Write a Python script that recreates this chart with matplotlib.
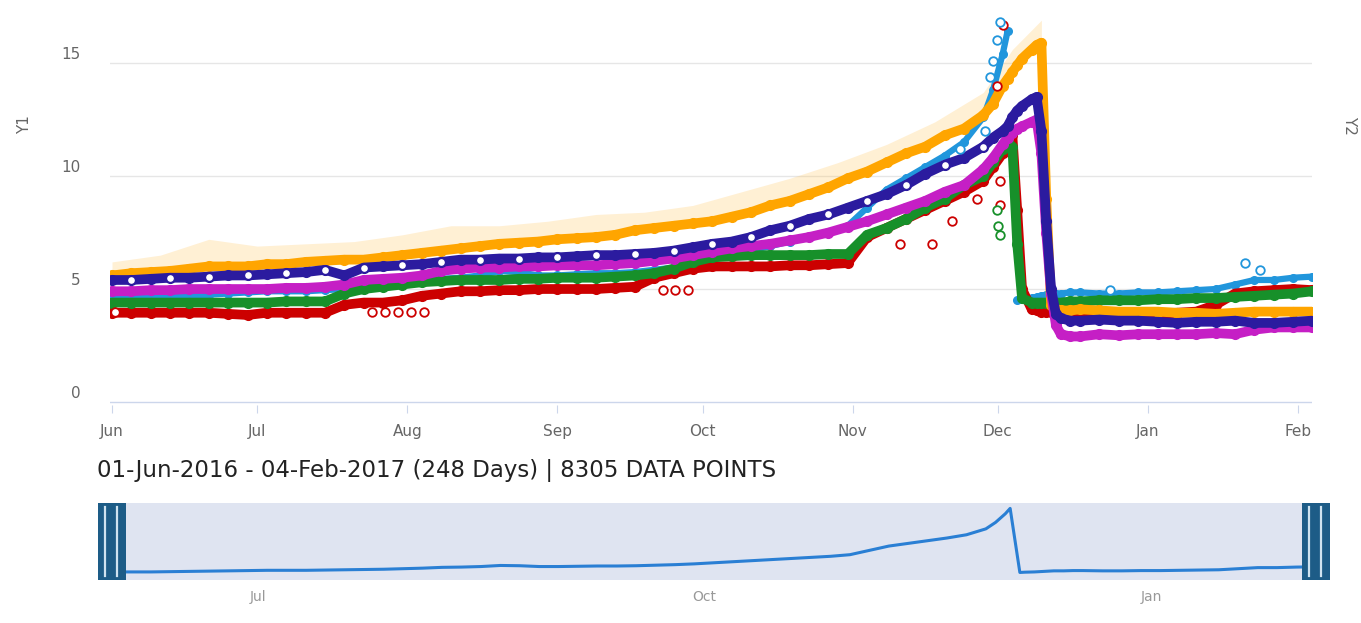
import matplotlib
matplotlib.use("Agg")
import matplotlib.pyplot as plt
import matplotlib.transforms as mtransforms
from matplotlib.patches import Rectangle
from matplotlib.lines import Line2D

W, H = 1361, 623

# ---- data (day 0 = 01-Jun-2016) ----
days = [0, 4, 8, 12, 16, 20, 24, 28, 32, 36, 40, 44, 48, 52, 56, 60, 64, 68, 72, 76,
        80, 84, 88, 92, 96, 100, 104, 108, 112, 116, 120, 124, 128, 132, 136, 140, 144,
        148, 152, 156, 160, 164, 168, 172, 176, 180,
        182, 184, 185, 186, 187, 188, 190, 191, 192, 193, 194, 195, 196, 198, 200,
        204, 208, 212, 216, 220, 224, 228, 232, 236, 240, 244, 248]

orange = [5.6, 5.7, 5.75, 5.8, 5.9, 6.0, 6.0, 6.0, 6.1, 6.1, 6.2, 6.25, 6.3, 6.3, 6.4, 6.5,
          6.6, 6.7, 6.8, 6.9, 7.0, 7.05, 7.1, 7.2, 7.25, 7.3, 7.4, 7.6, 7.7, 7.8, 7.9, 8.0,
          8.2, 8.4, 8.7, 8.9, 9.2, 9.5, 9.9, 10.2, 10.6, 11.0, 11.3, 11.8, 12.1, 12.7,
          13.2, 14.0, 14.3, 14.6, 14.9, 15.2, 15.6, 15.8, 15.9, 9.0, 4.3, 4.1, 4.05, 4.05, 4.1,
          4.05, 4.0, 4.0, 4.0, 3.95, 3.95, 3.9, 3.95, 4.0, 4.0, 4.0, 4.0]

navy = [5.4, 5.4, 5.45, 5.5, 5.5, 5.55, 5.6, 5.6, 5.65, 5.7, 5.75, 5.85, 5.6, 5.95, 6.0, 6.05,
        6.1, 6.2, 6.3, 6.3, 6.35, 6.35, 6.4, 6.4, 6.45, 6.5, 6.5, 6.55, 6.6, 6.7, 6.85, 7.0,
        7.1, 7.3, 7.6, 7.8, 8.1, 8.3, 8.6, 8.9, 9.2, 9.6, 10.1, 10.5, 10.8, 11.3,
        11.7, 12.0, 12.2, 12.6, 12.9, 13.1, 13.4, 13.5, 12.0, 8.0, 5.0, 3.9, 3.7, 3.6, 3.6,
        3.65, 3.6, 3.6, 3.55, 3.5, 3.55, 3.55, 3.6, 3.5, 3.5, 3.55, 3.6]

magenta = [4.9, 4.9, 4.95, 4.95, 5.0, 5.0, 5.0, 5.0, 5.0, 5.05, 5.05, 5.1, 5.2, 5.4, 5.45, 5.5,
           5.6, 5.8, 5.9, 5.95, 5.95, 6.0, 6.0, 6.05, 6.05, 6.05, 6.1, 6.15, 6.25, 6.35, 6.5,
           6.65, 6.8, 6.9, 7.0, 7.15, 7.3, 7.5, 7.75, 8.0, 8.3, 8.6, 8.9, 9.3, 9.6, 10.3,
           10.8, 11.4, 11.7, 11.9, 12.1, 12.2, 12.4, 12.5, 11.0, 7.5, 4.8, 3.4, 3.0, 2.9, 2.9,
           3.0, 2.95, 3.0, 3.0, 3.0, 3.0, 3.05, 3.0, 3.2, 3.3, 3.3, 3.3]

green = [4.4, 4.4, 4.4, 4.4, 4.4, 4.4, 4.4, 4.4, 4.4, 4.45, 4.45, 4.45, 4.8, 5.0, 5.1, 5.2,
         5.3, 5.35, 5.4, 5.4, 5.4, 5.45, 5.45, 5.5, 5.5, 5.5, 5.55, 5.6, 5.7, 5.9, 6.2, 6.4,
         6.45, 6.5, 6.5, 6.5, 6.5, 6.55, 6.55, 7.4, 7.7, 8.1, 8.6, 9.0, 9.6, 10.0,
         10.6, 11.2, 11.5, 11.3, 7.0, 4.6, 4.4, 4.4, 4.4, 4.4, 4.4, 4.4, 4.4, 4.45, 4.45,
         4.5, 4.5, 4.5, 4.55, 4.55, 4.6, 4.6, 4.65, 4.7, 4.75, 4.8, 4.9]

red = [3.95, 3.95, 3.95, 3.95, 3.95, 3.95, 3.9, 3.85, 3.95, 3.95, 3.95, 3.95, 4.3, 4.4, 4.4,
       4.5, 4.7, 4.8, 4.9, 4.9, 4.95, 4.95, 5.0, 5.0, 5.0, 5.0, 5.05, 5.1, 5.5, 5.7, 5.9, 6.0,
       6.0, 6.0, 6.0, 6.05, 6.05, 6.1, 6.15, 7.3, 7.7, 8.1, 8.5, 8.9, 9.3, 9.8,
       10.4, 11.0, 11.4, 11.8, 8.5, 5.0, 4.1, 4.05, 4.0, 4.0, 4.0, 4.0, 4.0, 4.0, 4.0,
       3.95, 3.95, 3.9, 3.9, 3.95, 4.0, 4.3, 4.8, 4.9, 4.95, 5.0, 4.95]

# None = no reading on that day (gap at the drop)
lightblue = [4.6, 4.6, 4.6, 4.65, 4.7, 4.75, 4.8, 4.85, 4.9, 4.9, 4.9, 4.95, 5.0, 5.05, 5.1,
             5.2, 5.3, 5.45, 5.5, 5.6, 5.8, 5.75, 5.6, 5.6, 5.65, 5.7, 5.7, 5.75, 5.85, 5.95, 6.1,
             6.3, 6.5, 6.7, 6.9, 7.1, 7.3, 7.5, 7.8, 8.6, 9.4, 9.9, 10.4, 10.9, 11.5, 12.6,
             13.8, 15.4, 16.4, None, 4.5, 4.55, 4.6, 4.65, 4.7, 4.75, 4.8, 4.8, 4.8, 4.85, 4.85,
             4.8, 4.8, 4.85, 4.85, 4.9, 4.95, 5.0, 5.2, 5.4, 5.4, 5.5, 5.55]

# faint scatter envelope above the orange series
env_days = [0, 10, 20, 30, 40, 50, 60, 70, 80, 90, 100, 110, 120, 130, 140, 150, 160, 170, 180, 186, 192]
env_lo = [5.6, 5.8, 6.0, 6.05, 6.2, 6.3, 6.5, 6.75, 7.0, 7.1, 7.3, 7.6, 7.9, 8.3, 8.9, 9.7, 10.6, 11.5, 12.7, 14.6, 15.9]
env_hi = [6.2, 6.5, 7.2, 6.9, 7.0, 7.1, 7.4, 7.8, 7.8, 8.0, 8.3, 8.4, 8.7, 9.3, 9.9, 10.6, 11.4, 12.4, 13.7, 15.6, 16.9]

# open-circle outliers
red_out_days = [0.6, 53.7, 56.4, 59.1, 61.8, 64.5, 113.8, 116.3, 119.0, 162.8, 169.4, 173.6, 178.7, 183.5, 183.5, 184.1, 182.9]
red_out_vals = [4.0, 4.0, 4.0, 4.0, 4.0, 4.0, 4.95, 4.95, 4.95, 7.0, 7.0, 8.0, 9.0, 9.8, 8.7, 16.7, 14.0]
blue_out_days = [175.2, 180.4, 181.4, 182.0, 182.9, 183.5, 206.2, 234.1, 237.2]
blue_out_vals = [11.2, 12.0, 14.4, 15.1, 16.0, 16.8, 4.95, 6.15, 5.85]
green_out_days = [182.9, 183.1, 183.5]
green_out_vals = [8.5, 7.8, 7.4]

month_ticks = [0, 30, 61, 92, 122, 153, 183, 214, 245]
month_labels = ["Jun", "Jul", "Aug", "Sep", "Oct", "Nov", "Dec", "Jan", "Feb"]
nav_ticks = [30, 122, 214]
nav_labels = ["Jul", "Oct", "Jan"]
y_ticks = [0, 5, 10, 15]

subtitle = "01-Jun-2016 - 04-Feb-2017 (248 Days) | 8305 DATA POINTS"

C_ORANGE = "#ffa500"
C_NAVY = "#2b1b9f"
C_MAGENTA = "#c51fc5"
C_GREEN = "#17902a"
C_RED = "#cc0000"
C_LBLUE = "#2196dc"

plt.rcParams['font.family'] = ['DejaVu Sans']

fig = plt.figure(figsize=(W / 100, H / 100), dpi=100)


def rect(l, t, r, b):
    return [l / W, 1 - b / H, (r - l) / W, (b - t) / H]


ax = fig.add_axes(rect(110, 5, 1312, 405))
ax.set_xlim(-0.41, 247.9)
ax.set_ylim(-0.133, 17.57)
for s in ax.spines.values():
    s.set_visible(False)
for yv in [5, 10, 15]:
    ax.axhline(yv, color="#e6e6e6", lw=1, zorder=0)
ax.axhline(0, color="#ccd6eb", lw=1, zorder=0)

ax.fill_between(env_days, env_lo, env_hi, color="#ffc456", alpha=0.25, lw=0, zorder=1)

lb_plot = [float("nan") if v is None else v for v in lightblue]

ax.plot(days, lb_plot, color=C_LBLUE, lw=4.5, marker="o", ms=5.5, mec=C_LBLUE, mfc=C_LBLUE,
        solid_joinstyle="round", solid_capstyle="round", zorder=2)
order = [(red, C_RED, 3), (green, C_GREEN, 4),
         (orange, C_ORANGE, 5), (magenta, C_MAGENTA, 6), (navy, C_NAVY, 7)]
for vals, col, z in order:
    ax.plot(days, vals, color=col, lw=7, marker="o", ms=7, mec=col, mfc=col,
            solid_joinstyle="round", solid_capstyle="round", zorder=z)

# white-centred markers on the navy band
ax.plot(days, navy, ls="none", marker="o", ms=6, mfc="white", mec=C_NAVY, mew=1.2,
        markevery=list(range(1, 46, 2)), zorder=8)

ax.scatter(red_out_days, red_out_vals, s=38, facecolors="white", edgecolors=C_RED, lw=1.3, zorder=9)
ax.scatter(blue_out_days, blue_out_vals, s=38, facecolors="white", edgecolors=C_LBLUE, lw=1.3, zorder=9)
ax.scatter(green_out_days, green_out_vals, s=38, facecolors="white", edgecolors=C_GREEN, lw=1.3, zorder=9)

ax.set_xticks(month_ticks)
ax.set_xticklabels(month_labels)
ax.set_yticks(y_ticks)
ax.set_yticklabels([str(v) for v in y_ticks])
ax.tick_params(axis="x", length=6, color="#ccd6eb", labelsize=11, labelcolor="#666666", pad=8)
ax.tick_params(axis="y", length=0, labelsize=11, labelcolor="#666666", pad=21)
off = mtransforms.ScaledTranslation(0, 10 / 100, fig.dpi_scale_trans)
for lab in ax.get_yticklabels():
    lab.set_transform(lab.get_transform() + off)

fig.text(25 / W, 1 - 125 / H, "Y1", rotation=90, ha="center", va="center", color="#666666", fontsize=11)
fig.text(1350 / W, 1 - 125 / H, "Y2", rotation=270, ha="center", va="center", color="#666666", fontsize=11)

fig.text(97 / W, 1 - 471 / H, subtitle, ha="left", va="center", fontsize=16.5, color="#222222")

# ---- navigator ----
nav = fig.add_axes(rect(112, 503, 1316, 580))
nav.set_facecolor("#dfe4f1")
for s in nav.spines.values():
    s.set_visible(False)
nav_d = [d for d, v in zip(days, lightblue) if v is not None]
nav_v = [v for v in lightblue if v is not None]
nav.plot(nav_d, nav_v, color="#2a7fd4", lw=2.2, zorder=3)
nav.set_xlim(0, 248)
nav.set_ylim(3.1, 17.4)
nav.set_yticks([])
nav.set_xticks(nav_ticks)
nav.set_xticklabels(nav_labels)
nav.tick_params(axis="x", length=0, labelsize=10, labelcolor="#999999", pad=7)

handle_col = "#1d5c87"
grip_col = "#cfe3f0"
for hl in (98, 1302):
    fig.add_artist(Rectangle((hl / W, 1 - 580 / H), 28 / W, 77 / H, transform=fig.transFigure,
                             facecolor=handle_col, edgecolor="none", zorder=10))
    for gx in (hl + 7, hl + 19):
        fig.add_artist(Line2D([gx / W, gx / W], [1 - 576 / H, 1 - 507 / H], transform=fig.transFigure,
                              color=grip_col, lw=1.6, zorder=11))

fig.savefig("out.png", dpi=100)
